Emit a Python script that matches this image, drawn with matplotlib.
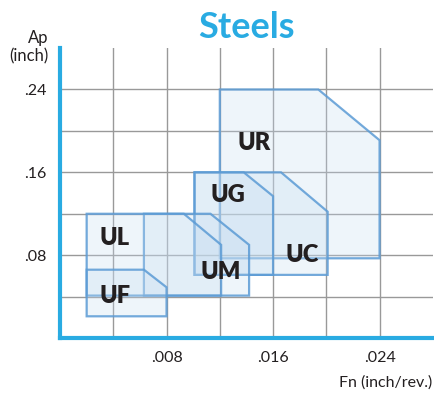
import matplotlib.pyplot as plt
from matplotlib.patches import Polygon

plt.rcParams['font.family'] = ['Lato', 'DejaVu Sans']

# chipbreaker ranges: feed (x) and depth of cut (y), top-right corner cut off
names = ['UR', 'UC', 'UG', 'UM', 'UL', 'UF']
fn_min = [0.0120, 0.0101, 0.0101, 0.0063, 0.0020, 0.0020]
fn_max = [0.0240, 0.0201, 0.0160, 0.0142, 0.0121, 0.0080]
ap_min = [0.077, 0.061, 0.061, 0.041, 0.041, 0.021]
ap_max = [0.240, 0.160, 0.160, 0.120, 0.120, 0.066]
cut_fn = [0.0194, 0.0166, 0.0138, 0.0113, 0.0093, 0.0063]
cut_ap = [0.191, 0.122, 0.137, 0.090, 0.090, 0.049]

label_fn = [0.0146, 0.0182, 0.0126, 0.0121, 0.0041, 0.0041]
label_ap = [0.188, 0.080, 0.138, 0.064, 0.097, 0.041]

x_ticks = [0.004, 0.008, 0.012, 0.016, 0.020, 0.024]
x_labels = ['', '.008', '', '.016', '', '.024']
y_ticks = [0.04, 0.08, 0.12, 0.16, 0.20, 0.24]
y_labels = ['', '.08', '', '.16', '', '.24']

blue = '#29abe2'
dark = '#231f20'

fig = plt.figure(figsize=(4.35, 3.94), dpi=100)
ax = fig.add_axes([0.138, 0.142, 0.857, 0.736])

for i in range(len(names)):
    verts = [(fn_min[i], ap_min[i]), (fn_min[i], ap_max[i]),
             (cut_fn[i], ap_max[i]), (fn_max[i], cut_ap[i]),
             (fn_max[i], ap_min[i])]
    ax.add_patch(Polygon(verts, closed=True, facecolor='#c5dcf0', alpha=0.28,
                         edgecolor='none', zorder=3 + i))
    ax.add_patch(Polygon(verts, closed=True, facecolor='none',
                         edgecolor='#5b9bd5', alpha=0.85, lw=1.6, zorder=3 + i))
    ax.text(label_fn[i], label_ap[i], names[i], fontsize=17, fontweight='heavy',
            color=dark, ha='center', va='center', zorder=20)

ax.set_xlim(0, 0.028)
ax.set_ylim(0, 0.28)
ax.set_xticks(x_ticks)
ax.set_xticklabels(x_labels)
ax.set_yticks(y_ticks)
ax.set_yticklabels(y_labels)
ax.tick_params(length=0, labelsize=11.5, labelcolor=dark)
ax.tick_params(axis='x', pad=9)
ax.tick_params(axis='y', pad=10)
ax.grid(True, color='#999999', lw=1, zorder=0)
ax.set_axisbelow(True)

for side in ['top', 'right']:
    ax.spines[side].set_visible(False)
for side in ['left', 'bottom']:
    ax.spines[side].set_color(blue)
    ax.spines[side].set_linewidth(3)
    ax.spines[side].set_zorder(30)

fig.text(0.567, 0.93, 'Steels', fontsize=26, fontweight='bold', color=blue,
         ha='center', va='center')
fig.text(0.112, 0.88, 'Ap\n(inch)', fontsize=12, color=dark, ha='right',
         va='center', multialignment='right', linespacing=1.15)
fig.text(0.994, 0.03, 'Fn (inch/rev.)', fontsize=11.5, color=dark, ha='right',
         va='center')

fig.savefig('out.png', dpi=100)
